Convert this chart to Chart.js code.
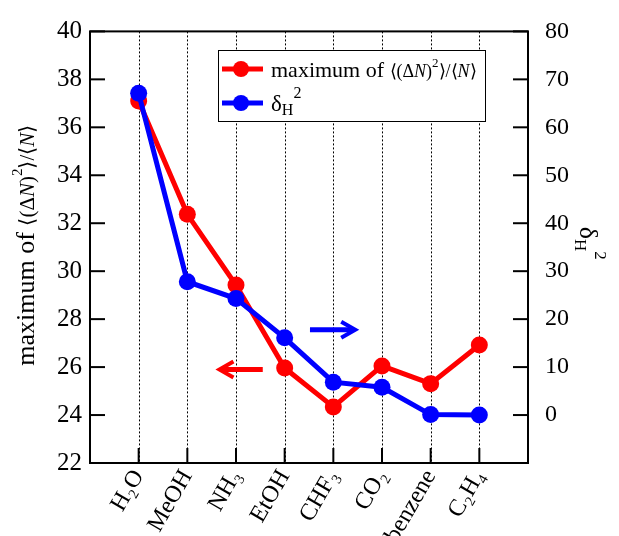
<!DOCTYPE html>
<html>
<head>
<meta charset="utf-8">
<script src="https://cdn.jsdelivr.net/npm/chart.js@4"></script>
<style>
  body { margin: 0; background: #fff; }
  canvas { display: block; }
  #probe { position: absolute; left: -999px; font-family: "Liberation Serif"; }
</style>
</head>
<body>
<span id="probe">maximum δ 0123 <i>N</i></span>
<canvas id="chart" width="619" height="536"></canvas>
<script>
const SERIF = '"Liberation Serif", "Times New Roman", Times, serif';

const solvents = ['H₂O', 'MeOH', 'NH₃', 'EtOH', 'CHF₃', 'CO₂', 'benzene', 'C₂H₄'];
const maxFluct = [37.1, 32.37, 29.42, 25.96, 24.34, 26.05, 25.31, 26.92];
const deltaH2 = [67.1, 27.8, 24.3, 16.1, 6.85, 5.8, 0.1, 0.0];
const leftTicks = [22, 24, 26, 28, 30, 32, 34, 36, 38, 40];
const rightTicks = [0, 10, 20, 30, 40, 50, 60, 70, 80];

// arrows pointing at the axis each series belongs to (data units)
const redArrow = { y: 25.9, from: 2.55, to: 1.66 };
const blueArrow = { y: 17.8, from: 3.52, to: 4.45 };

function rich(ctx, x, y, parts, measureOnly) {
  let cx = x;
  for (const [t, size, dy, italic] of parts) {
    ctx.font = (italic ? 'italic ' : '') + size + 'px ' + SERIF;
    if (!measureOnly) ctx.fillText(t, cx, y + dy);
    cx += ctx.measureText(t).width;
  }
  return cx - x;
}

function line(ctx, x1, y1, x2, y2) {
  ctx.beginPath();
  ctx.moveTo(x1, y1);
  ctx.lineTo(x2, y2);
  ctx.stroke();
}

function arrow(ctx, x1, x2, y, color) {
  const dir = Math.sign(x2 - x1);
  ctx.save();
  ctx.strokeStyle = color;
  ctx.lineWidth = 5;
  line(ctx, x1, y, x2 - dir * 2, y);
  ctx.lineWidth = 4;
  ctx.beginPath();
  ctx.moveTo(x2 - dir * 14, y - 8);
  ctx.lineTo(x2, y);
  ctx.lineTo(x2 - dir * 14, y + 8);
  ctx.stroke();
  ctx.restore();
}

const fluctTitle = [['maximum of ', 26, 0], ['⟨(Δ', 21, 0], ['N', 21, 0, true], [')', 21, 0],
  ['2', 15, -12], ['⟩/⟨', 21, 0], ['N', 21, 0, true], ['⟩', 21, 0]];
const fluctLegend = [['maximum of ', 22, 0], ['⟨(Δ', 18, 0], ['N', 18, 0, true], [')', 18, 0],
  ['2', 13, -10], ['⟩/⟨', 18, 0], ['N', 18, 0, true], ['⟩', 18, 0]];
const deltaTitle = [['δ', 26, 0], ['H', 17, 5], ['2', 17, -15]];
const deltaLegend = [['δ', 23, 0], ['H', 16, 4], ['2', 16, -13]];

const decorations = {
  id: 'decorations',
  beforeDatasetsDraw(chart) {
    const { ctx, chartArea: a, scales: { x } } = chart;
    ctx.save();
    ctx.strokeStyle = '#000';
    ctx.lineWidth = 1;
    ctx.setLineDash([2, 2]);
    x.ticks.forEach(t => {
      const px = Math.round(x.getPixelForValue(t.value)) + 0.5;
      line(ctx, px, a.top, px, a.bottom);
    });
    ctx.restore();
  },
  afterDatasetsDraw(chart) {
    const { ctx, chartArea: a, scales: { x, y, y1 } } = chart;
    ctx.save();
    ctx.strokeStyle = '#000';
    ctx.lineWidth = 2;
    ctx.strokeRect(a.left, a.top, a.right - a.left, a.bottom - a.top);
    y.ticks.forEach(t => {
      const py = y.getPixelForValue(t.value);
      line(ctx, a.left, py, a.left + 15, py);
    });
    y1.ticks.forEach(t => {
      const py = y1.getPixelForValue(t.value);
      line(ctx, a.right - 15, py, a.right, py);
    });
    x.ticks.forEach(t => {
      const px = x.getPixelForValue(t.value);
      line(ctx, px, a.bottom, px, a.bottom - 15);
    });

    arrow(ctx, x.getPixelForValue(redArrow.from), x.getPixelForValue(redArrow.to),
      y.getPixelForValue(redArrow.y), '#ff0000');
    arrow(ctx, x.getPixelForValue(blueArrow.from), x.getPixelForValue(blueArrow.to),
      y1.getPixelForValue(blueArrow.y), '#0000ff');

    // axis titles
    ctx.fillStyle = '#000';
    ctx.textBaseline = 'alphabetic';
    const cy = (a.top + a.bottom) / 2;
    let w = rich(ctx, 0, 0, fluctTitle, true);
    ctx.save();
    ctx.translate(34, cy - 2);
    ctx.rotate(-Math.PI / 2);
    rich(ctx, -w / 2, 0, fluctTitle);
    ctx.restore();

    w = rich(ctx, 0, 0, deltaTitle, true);
    ctx.save();
    ctx.translate(580, cy - 4);
    ctx.rotate(Math.PI / 2);
    rich(ctx, -w / 2, 0, deltaTitle);
    ctx.restore();

    // legend
    const bx = 218, by = 50, bw = 267, bh = 71;
    ctx.fillStyle = '#fff';
    ctx.fillRect(bx, by, bw, bh);
    ctx.lineWidth = 1;
    ctx.strokeRect(bx + 0.5, by + 0.5, bw, bh);
    [['#ff0000', 69, fluctLegend, 77], ['#0000ff', 103, deltaLegend, 111]].forEach(([c, ly, parts, tb]) => {
      ctx.strokeStyle = c;
      ctx.fillStyle = c;
      ctx.lineWidth = 5;
      line(ctx, 222, ly, 263, ly);
      ctx.beginPath();
      ctx.arc(241, ly, 8, 0, Math.PI * 2);
      ctx.fill();
      ctx.fillStyle = '#000';
      rich(ctx, 271, tb, parts);
    });
    ctx.restore();
  }
};

function draw() {
  new Chart(document.getElementById('chart'), {
    type: 'line',
    data: {
      datasets: [
        {
          label: 'maximum of ⟨(ΔN)²⟩/⟨N⟩',
          data: maxFluct.map((v, i) => ({ x: i, y: v })),
          yAxisID: 'y',
          borderColor: '#ff0000',
          backgroundColor: '#ff0000',
          borderWidth: 5,
          pointRadius: 8.5,
          pointBorderWidth: 0,
          pointHoverRadius: 8.5,
          order: 2
        },
        {
          label: 'δH²',
          data: deltaH2.map((v, i) => ({ x: i, y: v })),
          yAxisID: 'y1',
          borderColor: '#0000ff',
          backgroundColor: '#0000ff',
          borderWidth: 5,
          pointRadius: 8.5,
          pointBorderWidth: 0,
          pointHoverRadius: 8.5,
          order: 1
        }
      ]
    },
    options: {
      responsive: false,
      animation: false,
      events: [],
      layout: { padding: { top: 25, left: 0, right: 0, bottom: 0 } },
      plugins: { legend: { display: false }, tooltip: { enabled: false } },
      scales: {
        x: {
          type: 'linear',
          min: -1,
          max: 8,
          grid: { display: false, drawTicks: false },
          border: { display: false },
          afterBuildTicks: s => { s.ticks = solvents.map((_, i) => ({ value: i })); },
          afterFit: s => { s.height = 73; },
          ticks: {
            color: '#000',
            font: { family: SERIF, size: 24 },
            minRotation: 60,
            maxRotation: 60,
            padding: 2,
            autoSkip: false,
            callback: v => solvents[v]
          }
        },
        y: {
          position: 'left',
          min: 22,
          max: 40,
          grid: { display: false, drawTicks: false },
          border: { display: false },
          afterBuildTicks: s => { s.ticks = leftTicks.map(v => ({ value: v })); },
          afterFit: s => { s.width = 90; },
          ticks: { color: '#000', font: { family: SERIF, size: 25 }, padding: 8 }
        },
        y1: {
          position: 'right',
          min: -10,
          max: 80,
          grid: { display: false, drawTicks: false },
          border: { display: false },
          afterBuildTicks: s => { s.ticks = rightTicks.map(v => ({ value: v })); },
          afterFit: s => { s.width = 91; },
          ticks: { color: '#000', font: { family: SERIF, size: 24 }, padding: 17 }
        }
      }
    },
    plugins: [decorations]
  });
}

document.fonts.load('24px "Liberation Serif"').then(draw, draw);
</script>
</body>
</html>
